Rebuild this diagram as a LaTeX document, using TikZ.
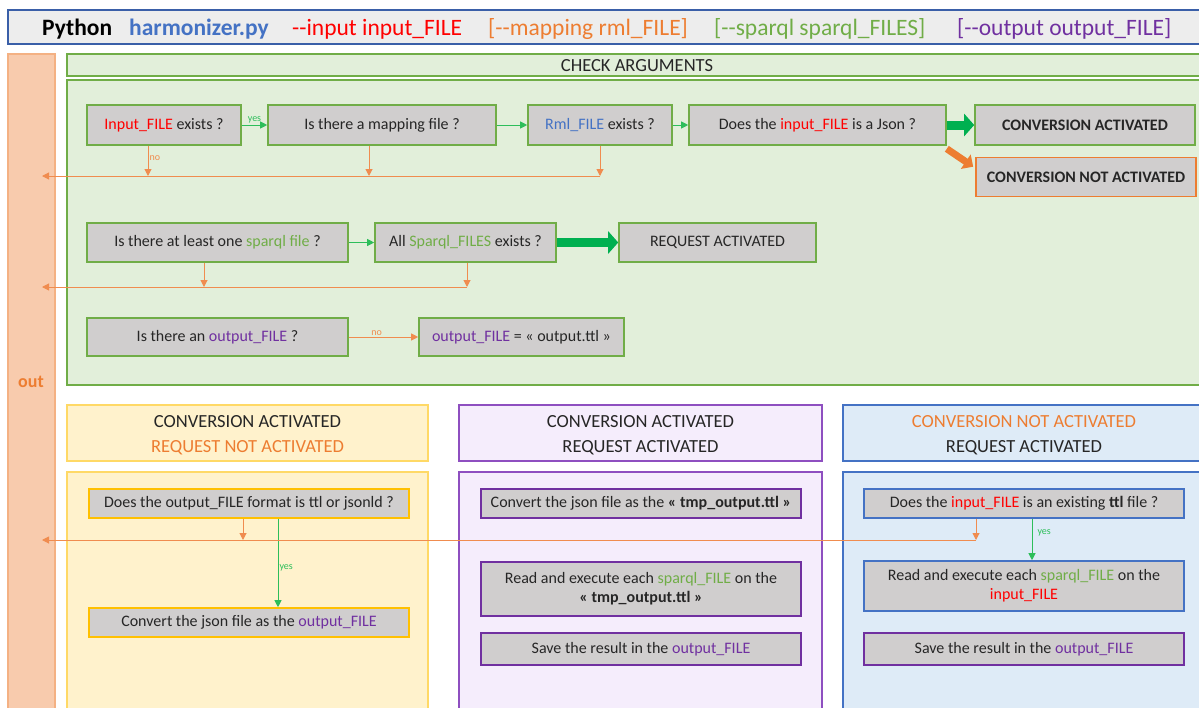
\documentclass[tikz,border=0pt]{standalone}
\usepackage{fontspec}
\setmainfont{Carlito}
\usetikzlibrary{arrows.meta,calc}

\definecolor{ink}{HTML}{262626}
\definecolor{boxgray}{HTML}{D0CECE}
\definecolor{cred}{HTML}{FF0000}
\definecolor{corange}{HTML}{ED7D31}
\definecolor{cgreen}{HTML}{70AD47}
\definecolor{cpurple}{HTML}{7030A0}
\definecolor{cblue}{HTML}{4472C4}
\definecolor{bgreen}{HTML}{00B050}
\definecolor{flowgreen}{HTML}{2DBE5A}
\definecolor{floworange}{HTML}{F08C4F}
\definecolor{titlefill}{HTML}{EDEDED}
\definecolor{titleedge}{HTML}{3A5FA8}
\definecolor{outfill}{HTML}{F8CBAD}
\definecolor{outedge}{HTML}{F4B183}
\definecolor{checkfill}{HTML}{E2EFDA}
\definecolor{yelfill}{HTML}{FFF2CC}
\definecolor{yeledge}{HTML}{FFD966}
\definecolor{gold}{HTML}{FFC000}
\definecolor{purfill}{HTML}{F5EDFC}
\definecolor{puredge}{HTML}{8E4FC0}
\definecolor{blufill}{HTML}{DEEBF7}

\newcommand{\rd}[1]{\textcolor{cred}{#1}}
\newcommand{\gr}[1]{\textcolor{cgreen}{#1}}
\newcommand{\pu}[1]{\textcolor{cpurple}{#1}}
\newcommand{\bl}[1]{\textcolor{cblue}{#1}}
\newcommand{\dd}{-{}-}

\begin{document}
\begin{tikzpicture}[x=1pt,y=-1pt,
  qbox/.style={draw=#1, line width=1.6pt, fill=boxgray, text=ink,
    font=\fontsize{16}{19}\selectfont, inner sep=0pt, align=center},
  hdr/.style={draw=#1, line width=1.4pt, inner sep=0pt, align=center,
    text=ink, font=\fontsize{18.5}{25}\selectfont},
  gflow/.style={draw=flowgreen, line width=1pt, -{Triangle[length=7pt,width=7pt]}},
  oflow/.style={draw=floworange, line width=1pt, -{Triangle[length=7pt,width=7pt]}},
  tag/.style={font=\fontsize{10}{11}\selectfont, inner sep=1pt},
  ttl/.style={anchor=base west, inner sep=0pt, font=\fontsize{23.5}{27}\selectfont}
]
\useasboundingbox (0,0) rectangle (1199,707);
\clip (0,0) rectangle (1199,707);

% command line banner
\fill[white] (0,0) rectangle (1199,707);
\draw[titleedge, line width=1.5pt, fill=titlefill] (8,10) rectangle (1215,44);
\node[ttl] (tpy) at (42,35) {\textbf{Python}};
\node[ttl, text=cblue] (tharm) at (129,35) {\textbf{harmonizer.py}};
\node[ttl, text=cred] (tin) at (292,35) {\dd input input\_FILE};
\node[ttl, text=corange] (tmap) at (488,35) {[\dd mapping rml\_FILE]};
\node[ttl, text=cgreen] (tsp) at (714,35) {[\dd sparql sparql\_FILES]};
\node[ttl, text=cpurple] (tout) at (957,35) {[\dd output output\_FILE]};

% exit column
\draw[outedge, line width=1.4pt, fill=outfill] (8,54) rectangle (55,720);
\node[text=corange, font=\fontsize{18}{20}\selectfont\bfseries] (outlbl) at (31,382) {out};

% argument checks
\draw[cgreen, line width=1.6pt, fill=checkfill] (67,54) rectangle (1215,76);
\node[text=ink, font=\fontsize{18.5}{21}\selectfont] (chk) at (637,65.5) {CHECK ARGUMENTS};
\draw[cgreen, line width=1.6pt, fill=checkfill] (67,80) rectangle (1215,385);

\node[qbox=cgreen, minimum width=154pt, minimum height=40pt] (in) at (164,125) {\rd{Input\_FILE} exists ?};
\node[qbox=cgreen, minimum width=228pt, minimum height=40pt] (map) at (382,125) {Is there a mapping file ?};
\node[qbox=cgreen, minimum width=144pt, minimum height=40pt] (rml) at (600,125) {\bl{Rml\_FILE} exists ?};
\node[qbox=cgreen, minimum width=257pt, minimum height=40pt] (json) at (817.5,125) {Does the \rd{input\_FILE} is a Json ?};
\node[qbox=cgreen, minimum width=220pt, minimum height=40pt, font=\fontsize{16}{19}\selectfont\bfseries] (convA) at (1085,125) {CONVERSION ACTIVATED};
\node[qbox=corange, minimum width=220pt, minimum height=39pt, font=\fontsize{16}{19}\selectfont\bfseries] (convN) at (1086,177) {CONVERSION NOT ACTIVATED};

\node[qbox=cgreen, minimum width=261pt, minimum height=39pt] (spq) at (217.5,242.5) {Is there at least one \gr{sparql file} ?};
\node[qbox=cgreen, minimum width=181pt, minimum height=39pt] (allspq) at (465.5,242.5) {All \gr{Sparql\_FILES} exists ?};
\node[qbox=cgreen, minimum width=197pt, minimum height=39pt] (reqA) at (717.5,242.5) {REQUEST ACTIVATED};

\node[qbox=cgreen, minimum width=261pt, minimum height=38pt] (outq) at (217.5,337) {Is there an \pu{output\_FILE} ?};
\node[qbox=cgreen, minimum width=205pt, minimum height=38pt] (outdef) at (521.5,337) {\pu{output\_FILE} = « output.ttl »};

% exit rails
\coordinate (exitA) at (42,176);
\coordinate (exitB) at (42,287);
\coordinate (exitC) at (42,540);

\draw[gflow] (in) -- node[tag, above, text=flowgreen] (yes1) {yes} (map);
\draw[gflow] (map) -- (rml);
\draw[gflow] (rml) -- (json);
\draw[line width=9pt, bgreen, -{Triangle[length=10pt,width=22pt]}] (json.east) -- (convA.west);
\draw[line width=7pt, corange, -{Triangle[length=9pt,width=17pt]}] ([yshift=-3pt]json.south east) -- ([xshift=-2pt,yshift=-10pt]convN.north west);

\draw[oflow] ([xshift=-16pt]in.south) -- node[tag, right, text=floworange, pos=0.4] (no1) {no} ([xshift=-16pt]in.south |- exitA);
\draw[oflow] ([xshift=-13pt]map.south) -- ([xshift=-13pt]map.south |- exitA);
\draw[oflow] (rml.south) -- (rml.south |- exitA);
\draw[oflow] (rml.south |- exitA) -- (exitA);

\draw[gflow] (spq) -- (allspq);
\draw[line width=9pt, bgreen, -{Triangle[length=10pt,width=22pt]}] (allspq.east) -- (reqA.west);
\draw[oflow] ([xshift=-13.5pt]spq.south) -- ([xshift=-13.5pt]spq.south |- exitB);
\draw[oflow] ([xshift=1.5pt]allspq.south) -- ([xshift=1.5pt]allspq.south |- exitB);
\draw[oflow] ([xshift=1.5pt]allspq.south |- exitB) -- (exitB);

\draw[oflow] (outq) -- node[tag, above, text=floworange, pos=0.4] (no2) {no} (outdef);

% conversion only
\draw[yeledge, line width=1.4pt, fill=yelfill] (67,472) rectangle (428,720);
\draw[yeledge, line width=1.4pt, fill=yelfill] (67,405) rectangle (428,461);
\node[align=center, text=ink, font=\fontsize{18.5}{25}\selectfont] (hdY) at (247.5,435) {CONVERSION ACTIVATED\\\textcolor{corange}{REQUEST NOT ACTIVATED}};
\node[qbox=gold, minimum width=320pt, minimum height=29pt] (fmtq) at (249,503.5) {Does the output\_FILE format is ttl or jsonld ?};
\node[qbox=gold, minimum width=320pt, minimum height=29pt] (convY) at (249,622.5) {Convert the json file as the \pu{output\_FILE}};

% conversion and request
\draw[puredge, line width=1.4pt, fill=purfill] (459,472) rectangle (822,720);
\draw[puredge, line width=1.4pt, fill=purfill] (459,405) rectangle (822,461);
\node[align=center, text=ink, font=\fontsize{18.5}{25}\selectfont] (hdP) at (640.5,435) {CONVERSION ACTIVATED\\REQUEST ACTIVATED};
\node[qbox=cpurple, minimum width=320pt, minimum height=29pt] (tmpP) at (641,503.5) {Convert the json file as the \textbf{« tmp\_output.ttl »}};
\node[qbox=cpurple, minimum width=320pt, minimum height=54pt] (readP) at (641,589) {Read and execute each \gr{sparql\_FILE} on the\\\textbf{« tmp\_output.ttl »}};
\node[qbox=cpurple, minimum width=320pt, minimum height=32pt] (saveP) at (641,649) {Save the result in the \pu{output\_FILE}};

% request only
\draw[cblue, line width=1.4pt, fill=blufill] (843,472) rectangle (1215,720);
\draw[cblue, line width=1.4pt, fill=blufill] (843,405) rectangle (1215,461);
\node[align=center, text=ink, font=\fontsize{18.5}{25}\selectfont] (hdB) at (1024,435) {\textcolor{corange}{CONVERSION NOT ACTIVATED}\\REQUEST ACTIVATED};
\node[qbox=cblue, minimum width=320pt, minimum height=29pt] (ttlq) at (1024,503.5) {Does the \rd{input\_FILE} is an existing \textbf{ttl} file ?};
\node[qbox=cblue, minimum width=320pt, minimum height=50pt] (readB) at (1024,586) {Read and execute each \gr{sparql\_FILE} on the\\\rd{input\_FILE}};
\node[qbox=cpurple, minimum width=320pt, minimum height=32pt] (saveB) at (1024,649) {Save the result in the \pu{output\_FILE}};

% flows in the lower panels
\draw[oflow] ([xshift=-6pt]fmtq.south) -- ([xshift=-6pt]fmtq.south |- exitC);
\draw[gflow] ([xshift=29pt]fmtq.south) -- node[tag, right, text=flowgreen, pos=0.55] (yes2) {yes} ([xshift=29pt]convY.north);
\draw[oflow] ([xshift=-48pt]ttlq.south) -- ([xshift=-48pt]ttlq.south |- exitC);
\draw[gflow] ([xshift=8pt]ttlq.south) -- node[tag, right, text=flowgreen, pos=0.35, xshift=4pt] (yes3) {yes} ([xshift=8pt]readB.north);
\draw[oflow] ([xshift=-48pt]ttlq.south |- exitC) -- (exitC);
\end{tikzpicture}
\end{document}
